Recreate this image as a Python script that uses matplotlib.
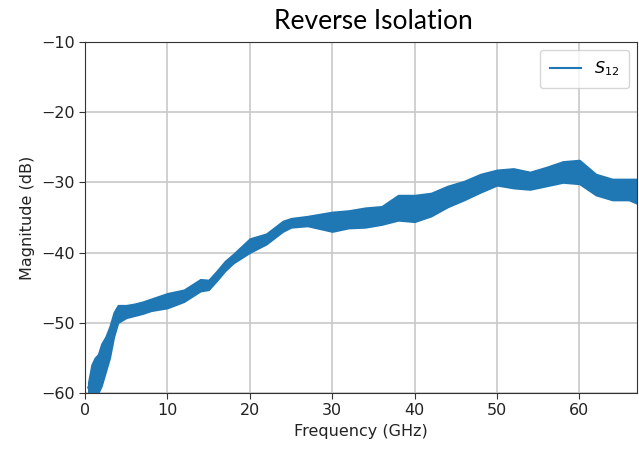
import numpy as np
import matplotlib
matplotlib.use("Agg")
import matplotlib.pyplot as plt

plt.rcParams['font.family'] = ['DejaVu Sans']

# trace: frequency (GHz) with lower / upper edge of the noisy band (dB)
freq = [0.4, 0.8, 1.2, 1.6, 2.0, 2.5, 3.0, 3.5, 4.0, 5.0, 6.0, 7.0, 8.0, 10, 12, 14, 15,
        16, 17, 18, 20, 22, 24, 25, 27, 30, 32, 34, 36, 38, 40, 42, 44, 46, 48, 50,
        52, 54, 56, 58, 60, 62, 64, 66, 67]
s12_lo = [-60, -60, -60, -60, -59, -57, -55, -52, -50, -49.3, -49.0, -48.7, -48.3, -47.9,
          -47.0, -45.5, -45.3, -44.0, -42.6, -41.5, -40.0, -38.8, -37.0, -36.4, -36.2,
          -37.0, -36.5, -36.4, -36.0, -35.4, -35.6, -34.8, -33.5, -32.5, -31.4, -30.4,
          -30.8, -31.0, -30.5, -30.0, -30.2, -31.8, -32.5, -32.5, -33.0]
s12_hi = [-58.5, -56, -55, -54.5, -53, -52, -50.5, -48.5, -47.5, -47.5, -47.3, -47.0,
          -46.6, -45.8, -45.3, -43.8, -43.9, -42.6, -41.2, -40.2, -38.0, -37.3, -35.5,
          -35.1, -34.8, -34.2, -34.0, -33.6, -33.4, -31.8, -31.8, -31.5, -30.5, -29.8,
          -28.8, -28.2, -28.0, -28.5, -27.8, -27.0, -26.8, -28.8, -29.5, -29.5, -29.5]

color = '#1f77b4'
f = np.array(freq)
lo = np.array(s12_lo)
hi = np.array(s12_hi)

fig = plt.figure(figsize=(6.39, 4.49), dpi=100)
ax = fig.add_axes([0.133, 0.125, 0.864, 0.781])

ax.fill_between(f, lo, hi, color=color, lw=1.2)
ax.plot(f, (lo + hi) / 2, color=color, lw=1.5, label='$S_{12}$')

ax.set_xlim(0, 67)
ax.set_ylim(-60, -10)
ax.set_xticks([0, 10, 20, 30, 40, 50, 60])
ax.set_yticks([-60, -50, -40, -30, -20, -10])
ax.grid(True, color='#c8c8c8', lw=1.2)
ax.set_axisbelow(True)
ax.tick_params(labelsize=11.5, length=4, color='#333333', labelcolor='#222222')
for sp in ax.spines.values():
    sp.set_color('#333333')

ax.set_xlabel('Frequency (GHz)', fontsize=11.5, color='#222222')
ax.set_ylabel('Magnitude (dB)', fontsize=11.5, color='#222222')
fig.text(0.585, 0.953, 'Reverse Isolation', ha='center', va='center',
         fontsize=19, family='Lato')

ax.legend(loc='upper right', fontsize=11.5, handlelength=2.0, borderpad=0.6)

fig.savefig('out.png', dpi=100)
